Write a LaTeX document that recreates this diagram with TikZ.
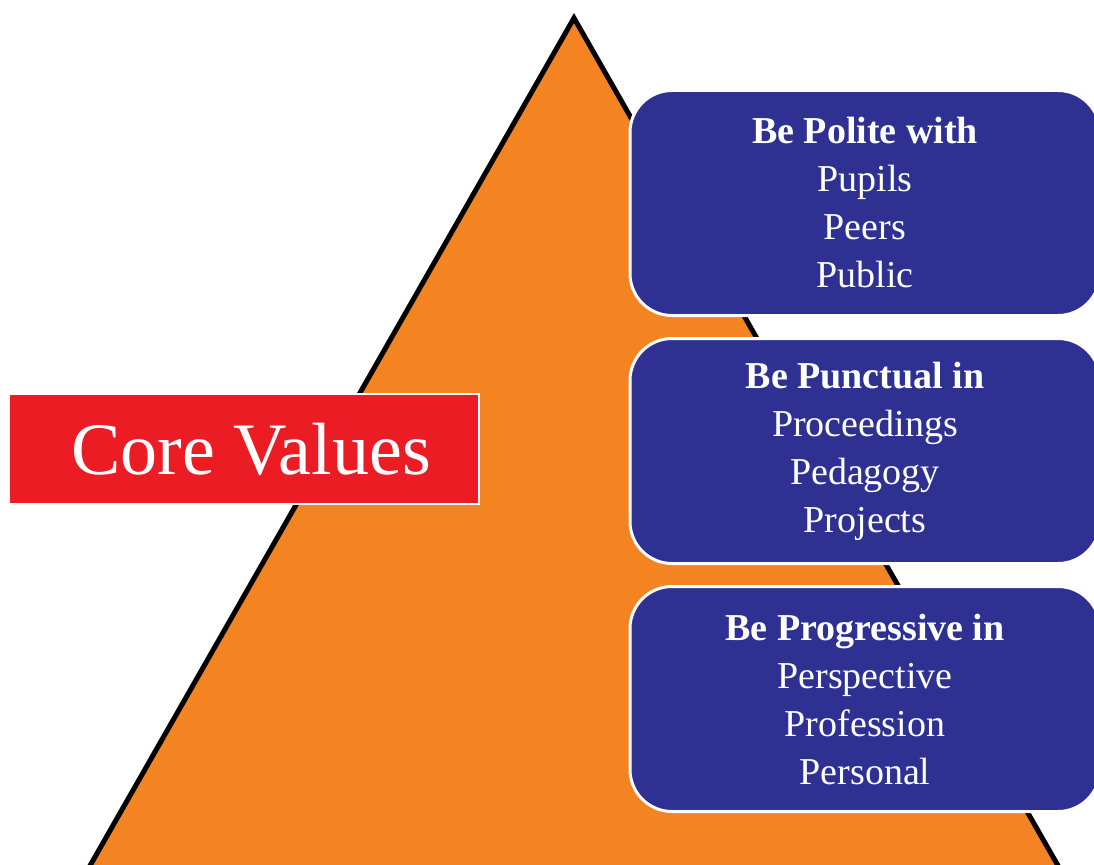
\documentclass[tikz,border=0pt]{standalone}
\usepackage{fontspec}
\setmainfont{Liberation Serif}
\usetikzlibrary{positioning}

\definecolor{pyramidorange}{HTML}{F48322}
\definecolor{valueblue}{HTML}{2E3192}
\definecolor{corered}{HTML}{EC1C24}

\begin{document}
\begin{tikzpicture}[
                    x=1pt, y=-1pt,
                    pyramid/.style={draw=black, fill=pyramidorange, line width=5pt, line join=miter},
                    title/.style={rectangle, draw=white, fill=corered, line width=2.5pt, minimum width=470pt, minimum height=110pt, text=white, font=\fontsize{74}{80}\selectfont},
                    value/.style={rectangle, rounded corners=42pt, draw=white, fill=valueblue, line width=3pt, minimum width=470pt, minimum height=225pt, text=white, align=center, font=\fontsize{38}{48}\selectfont}
                ]
                    \useasboundingbox (0,0) rectangle (1094,864);
                    \clip (0,0) rectangle (1094,864);

                    % the pyramid behind everything
                    \path [pyramid] (574,18) -- (1077.6,900) -- (70.4,900) -- cycle;

                    \node [title] (core) at (244,449) {\hspace*{14pt}Core Values};

                    \node [value] (polite) at (865,203) {\textbf{Be Polite with}\\Pupils\\Peers\\Public};
                    \node [value, below=20pt of polite] (punctual) {\textbf{Be Punctual in}\\Proceedings\\Pedagogy\\Projects};
                    \node [value, below=20pt of punctual] (progressive) {\textbf{Be Progressive in}\\Perspective\\Profession\\Personal};
                \end{tikzpicture}
\end{document}
